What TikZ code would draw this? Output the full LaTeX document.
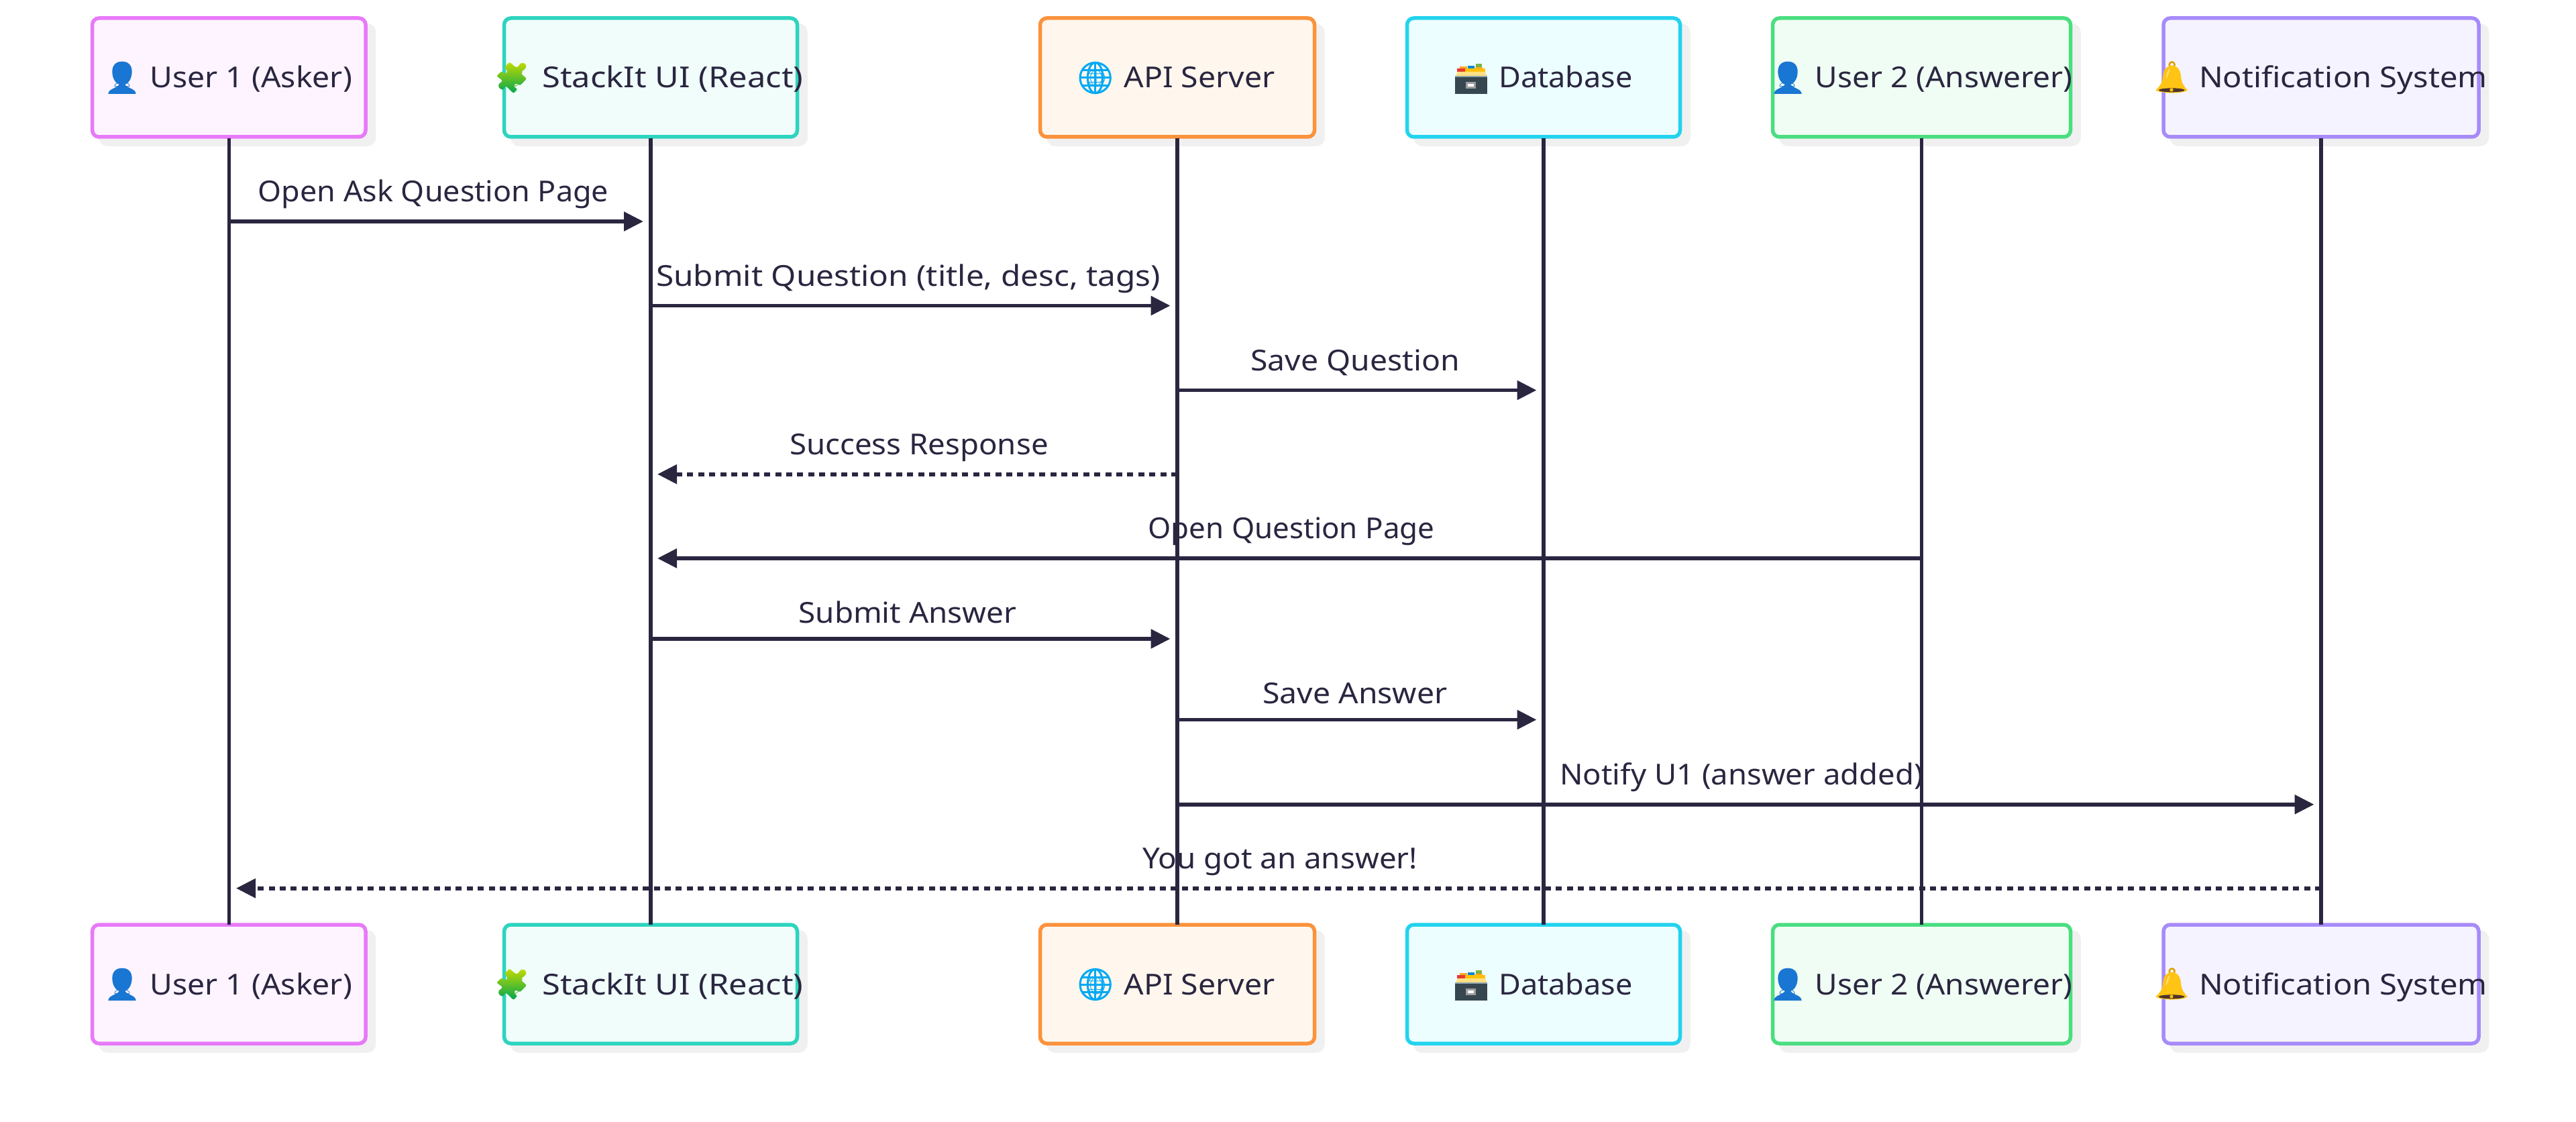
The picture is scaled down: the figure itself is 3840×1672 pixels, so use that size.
\documentclass[tikz,border=0pt]{standalone}
\usepackage{fontspec}
\usepackage{graphicx}
\setmainfont{Noto Sans}
\newfontfamily\emo{Noto Emoji}
\usetikzlibrary{arrows.meta,shadows}
\definecolor{ink}{HTML}{2A2640}
\definecolor{shc}{HTML}{F0F0F0}
\definecolor{aS}{HTML}{E879F9}\definecolor{aF}{HTML}{FDF4FF}
\definecolor{bS}{HTML}{2DD4BF}\definecolor{bF}{HTML}{F0FDFA}
\definecolor{cS}{HTML}{FB923C}\definecolor{cF}{HTML}{FFF7ED}
\definecolor{dS}{HTML}{22D3EE}\definecolor{dF}{HTML}{ECFEFF}
\definecolor{eS}{HTML}{4ADE80}\definecolor{eF}{HTML}{F0FDF4}
\definecolor{fS}{HTML}{A78BFA}\definecolor{fF}{HTML}{F5F3FF}
\definecolor{bustc}{HTML}{1976D2}
\definecolor{globec}{HTML}{03A9F4}
\definecolor{pztop}{HTML}{C4DA00}
\definecolor{pzbot}{HTML}{00A651}
\newcommand{\ico}[2]{\makebox[49pt][c]{\raisebox{5pt}{\textcolor[HTML]{#1}{\emo\fontsize{26}{30}\selectfont #2}}}\hspace{17pt}}
\newcommand{\wide}[2]{\scalebox{#1}[1]{#2}}
\newcommand{\free}[1]{\makebox[0pt][c]{#1}}
\newcommand{\uone}{\free{\ico{1976D2}{👤}\wide{1.077}{User 1 (Asker)}}}
\newcommand{\uitxt}{\free{\ico{6DB516}{🧩}\wide{1.136}{StackIt UI (React)}}}
\newcommand{\apitxt}{\free{\ico{03A9F4}{🌐}\wide{1.078}{API Server}}}
\newcommand{\dbtxt}{\free{\ico{37474F}{🗃}\wide{1.047}{Database}}}
\newcommand{\utwo}{\free{\ico{1976D2}{👤}\wide{1.071}{User 2 (Answerer)}}}
\newcommand{\nstxt}{\free{\ico{FFC107}{🔔}\wide{1.095}{Notification System}}}
% drawn forms of the emoji; coordinates are in thirds of a pixel from the origin (#1,#2)
\newcommand{\bustform}[2]{\begin{scope}[shift={(#1,#2)},x=0.3333pt,y=-0.3333pt]
  \fill[bustc] (96,20) .. controls (125,20) and (140,38) .. (140,65) .. controls (140,95) and (125,125) .. (96,125)
     .. controls (67,125) and (52,95) .. (52,65) .. controls (52,38) and (67,20) .. (96,20) -- cycle;
  \fill[bustc] (34,165) .. controls (36,140) and (70,142) .. (84,122) -- (108,122) .. controls (122,142) and (156,140) .. (158,165) -- cycle;
\end{scope}}
\newcommand{\puzzleform}[2]{\begin{scope}[shift={(#1,#2)},x=0.3333pt,y=-0.3333pt]
  \shade[top color=pztop,bottom color=pzbot,rounded corners=2.5pt]
   (88,22) -- (118,47) -- (130,42) -- (136,28) -- (152,25) -- (165,38) -- (158,55) -- (144,62) -- (138,72) -- (166,97)
   -- (135,128) -- (120,118) -- (108,124) -- (110,136) -- (125,142) -- (107,163) -- (78,135) -- (70,128) -- (62,148)
   -- (42,140) -- (38,122) -- (52,112) -- (58,105) -- (30,85) -- (55,62) -- (65,75) -- (78,72) -- (78,58) -- (65,48) -- cycle;
\end{scope}}
\newcommand{\globeform}[2]{\begin{scope}[shift={(#1,#2)},x=0.3333pt,y=-0.3333pt,draw=globec,line width=3pt]
  \draw (98,93) circle [radius=68];
  \draw (98,93) ellipse [x radius=34, y radius=68];
  \draw (98,25) -- (98,161);
  \draw (30,93) -- (166,93);
  \draw (38,60) -- (158,60);
  \draw (38,127) -- (158,127);
\end{scope}}
\newcommand{\dbform}[2]{\begin{scope}[shift={(#1,#2)},x=0.3333pt,y=-0.3333pt]
  \fill[hx=FFA726] (48,42) rectangle (80,55);
  \fill[hx=0288D1] (83,40) rectangle (115,55);
  \fill[hx=7CB342] (120,30) rectangle (148,46);
  \fill[hx=FFA726] (118,46) rectangle (150,55);
  \fill[hx=FFC107] (38,52) rectangle (162,68);
  \fill[hx=E53935] (37,50) rectangle (72,66);
  \fill[hx=FFE082] (38,66) -- (162,66) -- (170,86) -- (30,86) -- cycle;
  \fill[hx=90A4AE] (28,84) rectangle (172,90);
  \fill[hx=37474F] (28,90) rectangle (172,165);
  \fill[hx=9E9E9E] (76,112) rectangle (120,140);
  \fill[white] (84,120) rectangle (112,133);
\end{scope}}
\newcommand{\bellform}[2]{\begin{scope}[shift={(#1,#2)},x=0.3333pt,y=-0.3333pt]
  \draw[hx=E0A000,line width=2.5pt] (98,34) circle [radius=12];
  \fill[hx=FFC414] (98,38) .. controls (120,38) and (135,55) .. (138,85) .. controls (140,115) and (150,130) .. (168,148)
     .. controls (150,165) and (48,165) .. (25,148) .. controls (45,130) and (55,115) .. (58,85) .. controls (60,55) and (76,38) .. (98,38) -- cycle;
  \fill[hx=FFE27A] (72,100) .. controls (72,75) and (78,60) .. (88,52) .. controls (84,70) and (80,85) .. (72,100) -- cycle;
  \fill[hx=4E342E] (97,148) ellipse [x radius=58, y radius=9];
  \fill[hx=FFC107] (96,147) circle [radius=8];
\end{scope}}
\tikzset{
  x=1pt,y=-1pt,
  hx/.code={\definecolor{tmpc}{HTML}{#1}\tikzset{color=tmpc}},
  actor/.style 2 args={draw=#1,fill=#2,rounded corners=10pt,line width=5.5pt,inner sep=0pt,outer sep=0pt,
    text=ink,font=\fontsize{43}{52}\selectfont,text height=31pt,text depth=0pt,minimum height=177pt,
    general shadow={draw=shc,fill=shc,shadow xshift=12.5pt,shadow yshift=-11pt}},
  lifeline/.style={draw=ink,line width=5.4pt,shorten <=2.5pt},
  msg/.style={draw=ink,line width=5.6pt,-{Triangle[length=29pt,width=28pt]}},
  reply/.style={msg,dash pattern=on 9pt off 7.4pt},
  lab/.style={text=ink,font=\fontsize{43}{52}\selectfont,anchor=base,inner sep=0pt,outer sep=0pt},
}
\begin{document}
\begin{tikzpicture}
\useasboundingbox (0,0) rectangle (3840,1672);
% actors, top row
\node[actor={aS}{aF},minimum width=407.5pt] (u1) at (341.3,115.5) {\uone};
\node[actor={bS}{bF},minimum width=437pt] (ui) at (970,115.5) {\uitxt};
\node[actor={cS}{cF},minimum width=409pt] (api) at (1755,115.5) {\apitxt};
\node[actor={dS}{dF},minimum width=407pt] (db) at (2301,115.5) {\dbtxt};
\node[actor={eS}{eF},minimum width=444pt] (u2) at (2864.5,115.5) {\utwo};
\node[actor={fS}{fF},minimum width=470pt] (ns) at (3460,115.5) {\nstxt};
% actors, bottom row
\node[actor={aS}{aF},minimum width=407.5pt] (u1b) at (341.3,1466.5) {\uone};
\node[actor={bS}{bF},minimum width=437pt] (uib) at (970,1466.5) {\uitxt};
\node[actor={cS}{cF},minimum width=409pt] (apib) at (1755,1466.5) {\apitxt};
\node[actor={dS}{dF},minimum width=407pt] (dbb) at (2301,1466.5) {\dbtxt};
\node[actor={eS}{eF},minimum width=444pt] (u2b) at (2864.5,1466.5) {\utwo};
\node[actor={fS}{fF},minimum width=470pt] (nsb) at (3460,1466.5) {\nstxt};
% emoji forms
\foreach \oy in {85,1436}{
  \bustform{150}{\oy}
  \puzzleform{730}{\oy}
  \globeform{1600}{\oy}
  \dbform{2160}{\oy}
  \bustform{2633}{\oy}
  \bellform{3205}{\oy}
}
% lifelines
\foreach \n in {u1,ui,api,db,u2,ns}{\draw[lifeline] (\n.south) -- (\n b.north);}
% message end points
\coordinate (m1a) at (341.3,330);   \coordinate (m1b) at (959,330);
\coordinate (m2a) at (970,455.5);   \coordinate (m2b) at (1744.5,455.5);
\coordinate (m3a) at (1755,581.5);  \coordinate (m3b) at (2290.5,581.5);
\coordinate (m4a) at (1755,706.7);  \coordinate (m4b) at (980,706.7);
\coordinate (m5a) at (2864.5,832);  \coordinate (m5b) at (980,832);
\coordinate (m6a) at (970,952);     \coordinate (m6b) at (1744.5,952);
\coordinate (m7a) at (1755,1072.5); \coordinate (m7b) at (2290.5,1072.5);
\coordinate (m8a) at (1755,1198.8); \coordinate (m8b) at (3449.5,1198.8);
\coordinate (m9a) at (3460,1323.7); \coordinate (m9b) at (352,1323.7);
% messages
\draw[msg] (m1a) -- (m1b);
\draw[msg] (m2a) -- (m2b);
\draw[msg] (m3a) -- (m3b);
\draw[reply] (m4a) -- (m4b);
\draw[msg] (m5a) -- (m5b);
\draw[msg] (m6a) -- (m6b);
\draw[msg] (m7a) -- (m7b);
\draw[msg] (m8a) -- (m8b);
\draw[reply] (m9a) -- (m9b);
% message labels
\node[lab] (l1) at (646,300.5) {\wide{1.044}{Open Ask Question Page}};
\node[lab] (l2) at (1354,426) {\wide{1.11}{Submit Question (title, desc, tags)}};
\node[lab] (l3) at (2020,552) {\wide{1.077}{Save Question}};
\node[lab] (l4) at (1370,677) {\wide{1.06}{Success Response}};
\node[lab] (l5) at (1925,802) {\wide{1.02}{Open Question Page}};
\node[lab] (l6) at (1353,928) {\wide{1.065}{Submit Answer}};
\node[lab] (l7) at (2020,1048.5) {\wide{1.077}{Save Answer}};
\node[lab] (l8) at (2596,1169) {\wide{1.057}{Notify U1 (answer added)}};
\node[lab] (l9) at (1908,1294) {\wide{1.063}{You got an answer!}};
\end{tikzpicture}
\end{document}
